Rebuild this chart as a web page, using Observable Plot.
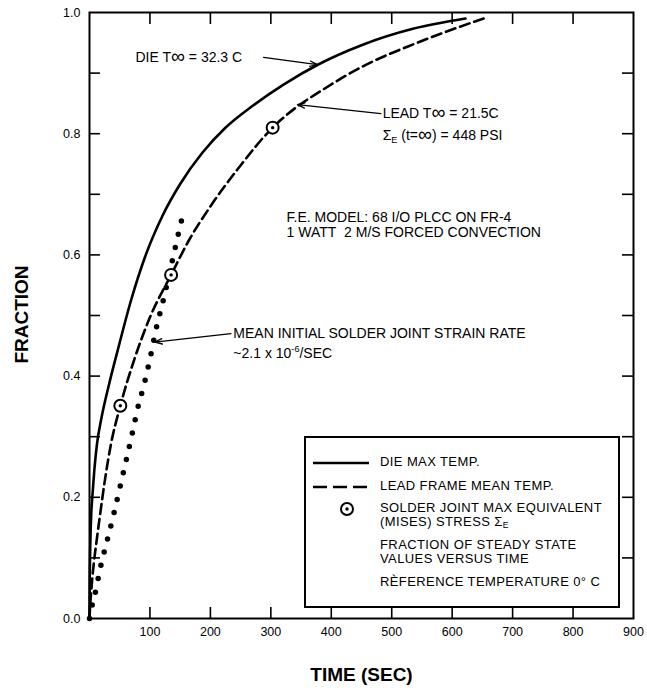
<!DOCTYPE html>
<html><head><meta charset="utf-8">
<script src="https://cdn.jsdelivr.net/npm/d3@7"></script>
<script src="https://cdn.jsdelivr.net/npm/@observablehq/plot@0.6"></script>
<style>
body{margin:0;background:#fff;}
#wrap{position:relative;width:647px;height:688px;font-family:"Liberation Sans",Arial,sans-serif;}
</style></head><body><div id="wrap"></div>
<script>
// Die max temperature (solid)
const dieTime = [0, 0.5, 1.5, 3, 5, 8, 12, 20, 32, 46, 69, 92, 121, 150, 187, 224, 270, 321, 380, 450, 535, 622];
const dieFrac = [0, 0.07, 0.13, 0.175, 0.205, 0.245, 0.285, 0.332, 0.385, 0.44, 0.526, 0.597, 0.665, 0.717, 0.769, 0.809, 0.846, 0.881, 0.915, 0.946, 0.973, 0.99];
// Lead frame mean temperature (dashed)
const leadTime = [0, 1, 2.5, 4.5, 7, 12, 18, 25, 35, 51, 75, 100, 135, 165, 200, 244, 303, 340, 382, 454, 537, 600, 652];
const leadFrac = [0, 0.02, 0.04, 0.065, 0.09, 0.13, 0.175, 0.225, 0.285, 0.351, 0.43, 0.497, 0.567, 0.625, 0.68, 0.74, 0.81, 0.842, 0.87, 0.912, 0.948, 0.972, 0.99];
// Solder joint max equivalent stress (circles)
const stressTime = [51, 135, 303];
const stressFrac = [0.351, 0.567, 0.81];
// Mean initial solder joint strain (dotted)
const strainTime = [0, 4, 9, 18, 29, 40, 50, 60, 70, 80, 91, 101, 110, 121, 131, 141, 151, 157];
const strainFrac = [0, 0.02, 0.04, 0.084, 0.128, 0.172, 0.215, 0.258, 0.302, 0.348, 0.389, 0.433, 0.477, 0.521, 0.564, 0.608, 0.652, 0.675];

const xLabelTicks = [100, 200, 300, 400, 500, 600, 700, 800, 900];
const xTickMarks = [100, 200, 300, 400, 500, 600, 700, 800];
const yLabelTicks = [0, 0.2, 0.4, 0.6, 0.8, 1.0];
const yTickMarks = [0.1, 0.2, 0.3, 0.4, 0.5, 0.6, 0.7, 0.8, 0.9];

const notes = [
  {t: 76, f: 0.926, text: "DIE T∞ = 32.3 C"},
  {t: 485, f: 0.833, text: "LEAD T∞ = 21.5C"},
  {t: 485, f: 0.797, text: "Σ_E (t=∞) = 448 PSI"},
  {t: 326, f: 0.662, text: "F.E. MODEL: 68 I/O PLCC ON FR-4"},
  {t: 326, f: 0.637, text: "1 WATT\u00a0 2 M/S FORCED CONVECTION"},
  {t: 238, f: 0.470, text: "MEAN INITIAL SOLDER JOINT STRAIN RATE"},
  {t: 238, f: 0.437, text: "~2.1 x 10^-6/SEC"}
];
const arrows = [
  {t1: 288, f1: 0.926, t2: 377, f2: 0.914},
  {t1: 482, f1: 0.833, t2: 344, f2: 0.848},
  {t1: 234, f1: 0.470, t2: 108, f2: 0.456}
];

const zip = (a, b) => a.map((v, i) => ({t: v, f: b[i]}));
const die = zip(dieTime, dieFrac);
const lead = zip(leadTime, leadFrac);
const stress = zip(stressTime, stressFrac);
const strain = zip(strainTime, strainFrac);

const W = 647, H = 688, mL = 89, mR = 14, mT = 12, mB = 70;
const innerW = W - mL - mR, innerH = H - mT - mB;
const FONT = '"Liberation Sans", Arial, sans-serif';

const plot = Plot.plot({
  width: W, height: H,
  marginLeft: mL, marginRight: mR, marginTop: mT, marginBottom: mB,
  style: {fontFamily: FONT, fontSize: "12.5px", color: "#000", background: "#fff"},
  x: {domain: [0, 900], label: null},
  y: {domain: [0, 1], label: null},
  marks: [
    Plot.axisX(xLabelTicks, {tickSize: 0, tickPadding: 9, fontSize: 12.5}),
    Plot.axisY(yLabelTicks, {tickSize: 0, tickPadding: 9, tickFormat: d => d.toFixed(1), fontSize: 12.5}),
    Plot.tickX(xTickMarks, {x: d => d, insetTop: innerH - 11, strokeWidth: 1.6}),
    Plot.tickX(xTickMarks, {x: d => d, insetBottom: innerH - 12, strokeWidth: 1.6}),
    Plot.tickY(yTickMarks, {y: d => d, insetRight: innerW - 11, strokeWidth: 1.6}),
    Plot.tickY(yTickMarks, {y: d => d, insetLeft: innerW - 11, strokeWidth: 1.6}),
    Plot.line(die, {x: "t", y: "f", curve: "monotone-x", stroke: "#000", strokeWidth: 2.6}),
    Plot.line(lead, {x: "t", y: "f", curve: "monotone-x", stroke: "#000", strokeWidth: 2.6, strokeDasharray: "10,5"}),
    Plot.line(strain, {x: "t", y: "f", curve: "monotone-x", stroke: "#000", strokeWidth: 5.5, strokeLinecap: "round", strokeDasharray: "0,13.6"}),
    Plot.dot(stress, {x: "t", y: "f", r: 6, fill: "#fff", stroke: "#000", strokeWidth: 2}),
    Plot.dot(stress, {x: "t", y: "f", r: 1.7, fill: "#000"}),
    Plot.arrow(arrows, {x1: "t1", y1: "f1", x2: "t2", y2: "f2", stroke: "#000", strokeWidth: 1.3, headLength: 9, headAngle: 40}),
    Plot.text(notes, {x: "t", y: "f", text: "text", textAnchor: "start", lineAnchor: "middle", fontSize: 14, fill: "#000"}),
    Plot.text(["TIME (SEC)"], {frameAnchor: "bottom", dy: 62, text: d => d, fontSize: 19, fontWeight: "bold", fill: "#000"}),
    Plot.text(["FRACTION"], {frameAnchor: "left", textAnchor: "middle", dx: -68, dy: -1, rotate: -90, text: d => d, fontSize: 19, fontWeight: "bold", fill: "#000"}),
    Plot.frame({stroke: "#000", strokeWidth: 2})
  ]
});

// rich text: subscripts, superscripts, enlarged infinity sign
const NS = "http://www.w3.org/2000/svg";
function richify(t, str, base) {
  while (t.firstChild) t.removeChild(t.firstChild);
  let shift = 0;
  str.split(/(_E|\^-6|∞)/).forEach(p => {
    if (!p) return;
    let s = p, target = 0, fs = null;
    if (p === "_E") { s = "E"; target = 3; fs = base * 0.65; }
    else if (p === "^-6") { s = "-6"; target = -6; fs = base * 0.65; }
    else if (p === "∞") { s = "∞"; target = 1; fs = base * 1.4; }
    const sp = document.createElementNS(NS, "tspan");
    sp.textContent = s;
    if (fs) sp.setAttribute("font-size", fs);
    if (target !== shift) { sp.setAttribute("dy", target - shift); shift = target; }
    t.appendChild(sp);
  });
}
plot.querySelectorAll("text").forEach(t => {
  const c = t.textContent;
  if (/_E|\^-6|∞/.test(c)) richify(t, c, 14);
});

const wrap = document.getElementById("wrap");
wrap.appendChild(plot);

// Legend overlay
const legendRows = [
  {kind: "solid", y: 27, lines: ["DIE MAX TEMP."]},
  {kind: "dashed", y: 51, lines: ["LEAD FRAME MEAN TEMP."]},
  {kind: "circle", y: 73, lines: ["SOLDER JOINT MAX EQUIVALENT", "(MISES) STRESS Σ_E"]},
  {kind: "none", y: 110, lines: ["FRACTION OF STEADY STATE", "VALUES VERSUS TIME"]},
  {kind: "none", y: 147, lines: ["RÈFERENCE TEMPERATURE 0° C"]}
];
const lw = 316, lh = 172, lineH = 14;
const leg = d3.create("svg").attr("width", lw).attr("height", lh)
  .style("position", "absolute").style("left", "304px").style("top", "436px");
leg.append("rect").attr("x", 1).attr("y", 1).attr("width", lw - 2).attr("height", lh - 2)
  .attr("fill", "#fff").attr("stroke", "#000").attr("stroke-width", 2);
legendRows.forEach(r => {
  const y = r.y;
  if (r.kind === "solid" || r.kind === "dashed") {
    leg.append("line").attr("x1", 9).attr("x2", 65).attr("y1", y).attr("y2", y)
      .attr("stroke", "#000").attr("stroke-width", 2.6)
      .attr("stroke-dasharray", r.kind === "dashed" ? "14,6" : null);
  } else if (r.kind === "circle") {
    leg.append("circle").attr("cx", 43).attr("cy", y).attr("r", 6).attr("fill", "#fff").attr("stroke", "#000").attr("stroke-width", 2);
    leg.append("circle").attr("cx", 43).attr("cy", y).attr("r", 1.7).attr("fill", "#000");
  }
  r.lines.forEach((ln, j) => {
    const t = leg.append("text").attr("x", 76).attr("y", y + j * lineH)
      .attr("dominant-baseline", "middle").attr("font-family", FONT).attr("font-size", 13)
      .attr("letter-spacing", "0.4px").attr("fill", "#000");
    if (/_E/.test(ln)) richify(t.node(), ln, 13); else t.text(ln);
  });
});
wrap.appendChild(leg.node());
</script></body></html>
